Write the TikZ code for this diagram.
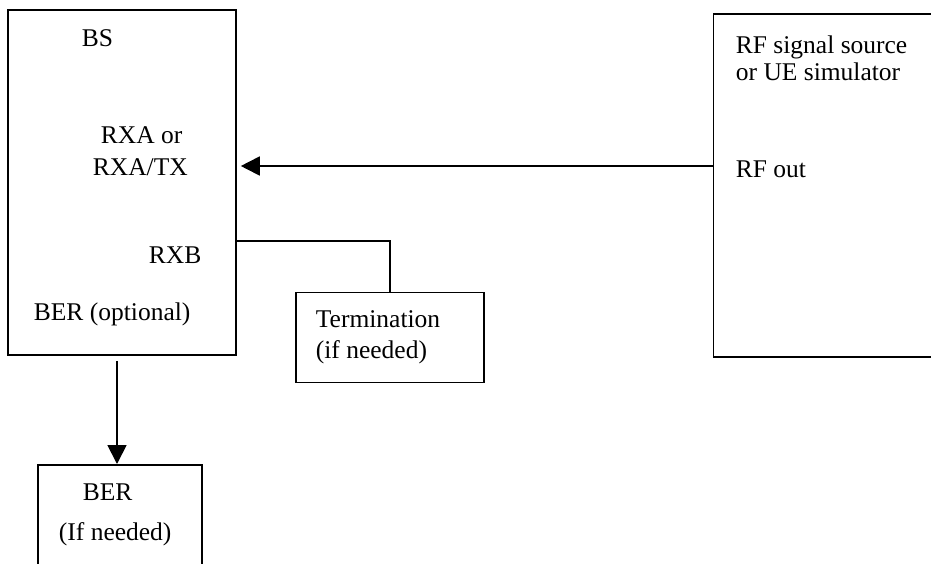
\documentclass[tikz,border=0pt]{standalone}
\usepackage{fontspec}
\setmainfont{Liberation Serif}
\usetikzlibrary{arrows.meta}
\begin{document}
\begin{tikzpicture}[x=1pt,y=-1pt,
  line width=1.8pt,
  box/.style={draw,rectangle,anchor=north west,inner sep=0pt},
  lbl/.style={anchor=base west,inner sep=0pt,font=\fontsize{25.5}{30}\selectfont},
  arr/.style={-{Triangle[length=19pt,width=19pt]}}]
\useasboundingbox (0,0) rectangle (931,563);
\clip (0,0) rectangle (931,563);
% blocks
\node[box,minimum width=228pt,minimum height=345pt] (bs) at (7,9) {};
\node[box,minimum width=240pt,minimum height=343pt] (rf) at (712.5,13) {};
\node[box,minimum width=188pt,minimum height=90pt] (term) at (295,291.5) {};
\node[box,minimum width=164pt,minimum height=120pt] (ber) at (37,464) {};
% labels
\node[lbl] (bsname) at (81,46) {BS};
\node[lbl] (rxa1) at (100,143.5) {RXA or};
\node[lbl] (rxa2) at (92,175) {RXA/TX};
\node[lbl] (rxb) at (148,263) {RXB};
\node[lbl] (beropt) at (33,320) {BER (optional)};
\node[lbl] (rfname1) at (735,53) {RF signal source};
\node[lbl] (rfname2) at (735,80) {or UE simulator};
\node[lbl] (rfout) at (735,177) {RF out};
\node[lbl] (term1) at (315,327) {Termination};
\node[lbl] (term2) at (315,358) {(if needed)};
\node[lbl] (bername) at (82,500) {BER};
\node[lbl] (berneed) at (58,540) {(If needed)};
% connection points
\coordinate (inport) at (712.5,166);
\coordinate (rxbtap) at (390,241);
\coordinate (berx) at (117,464);
% connectors
\draw[arr,shorten >=4pt] (rf.west |- inport) -- (bs.east |- inport);
\draw (bs.east |- rxbtap) -- (rxbtap) -- (term.north -| rxbtap);
\draw[arr,shorten <=5pt] (bs.south -| berx) -- (ber.north -| berx);
\end{tikzpicture}
\end{document}
